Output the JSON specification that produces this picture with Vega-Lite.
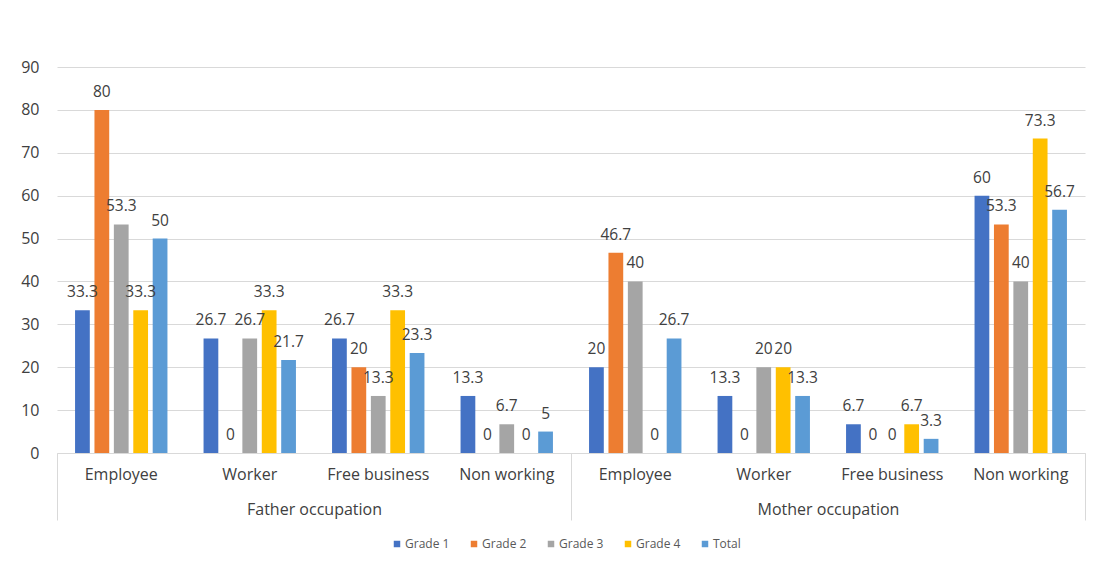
{
  "$schema": "https://vega.github.io/schema/vega-lite/v6.json",
  "width": 1028,
  "height": 386,
  "autosize": {"type": "none"},
  "padding": {"left": 57, "top": 67, "right": 9, "bottom": 114},
  "background": "white",
  "config": {
    "view": {"stroke": null},
    "font": "Open Sans",
    "axis": {"labelFont": "Open Sans", "labelColor": "#404040", "labelFontSize": 15, "titleFont": "Open Sans"}
  },
  "data": {
    "values": [
      {"group": "Father occupation", "category": "Employee", "Grade 1": 33.3, "Grade 2": 80, "Grade 3": 53.3, "Grade 4": 33.3, "Total": 50},
      {"group": "Father occupation", "category": "Worker", "Grade 1": 26.7, "Grade 2": 0, "Grade 3": 26.7, "Grade 4": 33.3, "Total": 21.7},
      {"group": "Father occupation", "category": "Free business", "Grade 1": 26.7, "Grade 2": 20, "Grade 3": 13.3, "Grade 4": 33.3, "Total": 23.3},
      {"group": "Father occupation", "category": "Non working", "Grade 1": 13.3, "Grade 2": 0, "Grade 3": 6.7, "Grade 4": 0, "Total": 5},
      {"group": "Mother occupation", "category": "Employee", "Grade 1": 20, "Grade 2": 46.7, "Grade 3": 40, "Grade 4": 0, "Total": 26.7},
      {"group": "Mother occupation", "category": "Worker", "Grade 1": 13.3, "Grade 2": 0, "Grade 3": 20, "Grade 4": 20, "Total": 13.3},
      {"group": "Mother occupation", "category": "Free business", "Grade 1": 6.7, "Grade 2": 0, "Grade 3": 0, "Grade 4": 6.7, "Total": 3.3},
      {"group": "Mother occupation", "category": "Non working", "Grade 1": 60, "Grade 2": 53.3, "Grade 3": 40, "Grade 4": 73.3, "Total": 56.7}
    ]
  },
  "transform": [
    {"fold": ["Grade 1", "Grade 2", "Grade 3", "Grade 4", "Total"], "as": ["series", "value"]},
    {"calculate": "datum.group + '|' + datum.category", "as": "slot"}
  ],
  "layer": [
    {
      "encoding": {
        "x": {
          "field": "slot",
          "type": "nominal",
          "sort": null,
          "scale": {"paddingInner": 0, "paddingOuter": 0},
          "axis": {
            "title": null,
            "orient": "bottom",
            "labelExpr": "split(datum.label, '|')[1]",
            "labelAngle": 0,
            "labelFontSize": 16,
            "labelPadding": 13,
            "ticks": false,
            "domain": true,
            "domainColor": "#d9d9d9",
            "domainWidth": 1,
            "grid": false
          }
        },
        "xOffset": {
          "field": "series",
          "type": "nominal",
          "sort": ["Grade 1", "Grade 2", "Grade 3", "Grade 4", "Total"],
          "scale": {"paddingInner": 0.24, "paddingOuter": 0.93}
        },
        "y": {
          "field": "value",
          "type": "quantitative",
          "scale": {"domain": [0, 90], "nice": false},
          "axis": {
            "title": null,
            "values": [0, 10, 20, 30, 40, 50, 60, 70, 80, 90],
            "domain": false,
            "ticks": false,
            "labelPadding": 18,
            "labelFontSize": 16,
            "grid": true,
            "gridColor": "#d9d9d9",
            "gridWidth": 1
          }
        }
      },
      "layer": [
        {
          "mark": {"type": "bar"},
          "encoding": {
            "color": {
              "field": "series",
              "type": "nominal",
              "sort": ["Grade 1", "Grade 2", "Grade 3", "Grade 4", "Total"],
              "scale": {
                "domain": ["Grade 1", "Grade 2", "Grade 3", "Grade 4", "Total"],
                "range": ["#4472C4", "#ED7D31", "#A5A5A5", "#FFC000", "#5B9BD5"]
              },
              "legend": {
                "title": null,
                "orient": "none",
                "direction": "horizontal",
                "legendX": 334,
                "legendY": 471,
                "symbolType": "square",
                "symbolSize": 42,
                "symbolStrokeWidth": 0,
                "labelFont": "Open Sans",
                "labelFontSize": 12,
                "labelColor": "#595959",
                "columnPadding": 18,
                "labelOffset": 2
              }
            }
          }
        },
        {
          "mark": {"type": "text", "baseline": "alphabetic", "dy": -13, "fontSize": 15.5, "color": "#404040", "font": "Open Sans"},
          "encoding": {
            "text": {"field": "value", "type": "quantitative", "format": ".1~f"}
          }
        }
      ]
    },
    {
      "mark": {"type": "rule", "opacity": 0},
      "encoding": {
        "x": {
          "field": "group",
          "type": "nominal",
          "sort": ["Father occupation", "Mother occupation"],
          "scale": {"paddingInner": 0, "paddingOuter": 0},
          "axis": {
            "title": null,
            "orient": "bottom",
            "labelAngle": 0,
            "labelFontSize": 16,
            "tickBand": "extent",
            "ticks": true,
            "tickSize": 67,
            "tickColor": "#d9d9d9",
            "tickWidth": 1,
            "domain": false,
            "labelPadding": -19,
            "grid": false
          }
        }
      }
    }
  ],
  "resolve": {"scale": {"x": "independent"}, "axis": {"x": "independent"}}
}
